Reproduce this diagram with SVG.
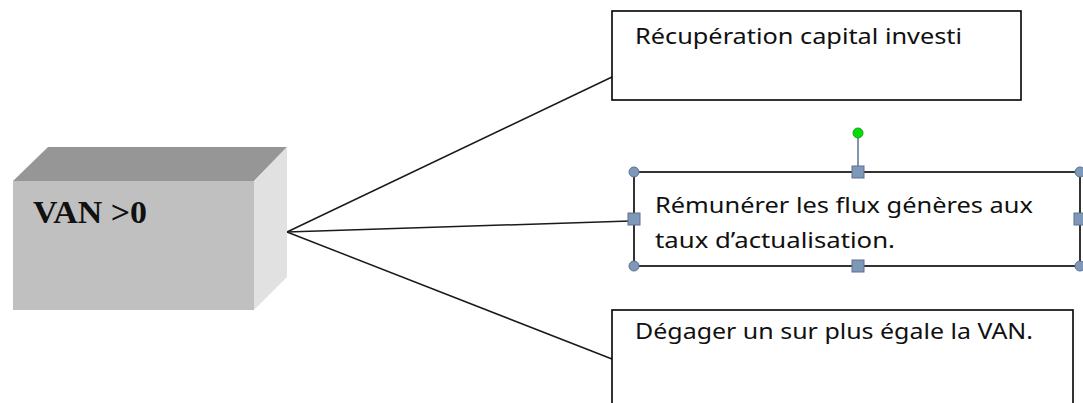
<svg xmlns="http://www.w3.org/2000/svg" width="1083" height="403" viewBox="0 0 1083 403">
  <style>
    .box { fill: #ffffff; stroke: #000000; stroke-width: 1.6; }
    .lbl { font-family: "Noto Sans", "Open Sans", sans-serif; font-size: 21px; fill: #101010; }
    .link { stroke: #1a1a1a; stroke-width: 1.5; fill: none; }
    .handle { fill: #7f98b8; stroke: #5a7293; stroke-width: 1; }
  </style>
  <rect width="1083" height="403" fill="#ffffff"/>

  <!-- connectors from the cube to each box -->
  <g id="connectors">
    <line class="link" x1="287" y1="232" x2="612" y2="77"/>
    <line class="link" x1="287" y1="232" x2="630" y2="221"/>
    <line class="link" x1="287" y1="232" x2="612" y2="359"/>
  </g>

  <!-- 3D cube: VAN > 0 -->
  <g id="cube">
    <polygon points="13,181 48,147 287,147 254,181" fill="#969696"/>
    <polygon points="254,181 287,147 287,277 254,310" fill="#e1e1e1"/>
    <rect x="13" y="181" width="241" height="129" fill="#c0c0c0"/>
    <text x="33" y="223" font-family="Liberation Serif, serif" font-weight="bold" font-size="31" fill="#111111" textLength="114" lengthAdjust="spacingAndGlyphs">VAN &gt;0</text>
  </g>

  <!-- box: capital recovery -->
  <g id="box-recuperation">
    <rect class="box" x="612" y="11" width="409" height="89"/>
    <text class="lbl" x="635" y="44" textLength="327" lengthAdjust="spacingAndGlyphs">Récupération capital investi</text>
  </g>

  <!-- box: cash-flow remuneration (selected, with handles) -->
  <g id="box-remunerer">
    <rect class="box" x="634" y="172" width="446" height="94"/>
    <text class="lbl" x="655" y="213" textLength="378" lengthAdjust="spacingAndGlyphs">Rémunérer les flux génères aux</text>
    <text class="lbl" x="655" y="248" textLength="240" lengthAdjust="spacingAndGlyphs">taux d’actualisation.</text>
    <line x1="858" y1="133" x2="858" y2="172" stroke="#5a7293" stroke-width="1.5"/>
    <circle cx="858" cy="133" r="5" fill="#00e000" stroke="#2a9a2a" stroke-width="1"/>
    <circle class="handle" cx="634" cy="172" r="5"/>
    <circle class="handle" cx="1080" cy="172" r="5"/>
    <circle class="handle" cx="634" cy="266" r="5"/>
    <circle class="handle" cx="1080" cy="266" r="5"/>
    <rect class="handle" x="852" y="166" width="12" height="12"/>
    <rect class="handle" x="852" y="260" width="12" height="12"/>
    <rect class="handle" x="628" y="213" width="12" height="12"/>
    <rect class="handle" x="1074" y="213" width="12" height="12"/>
  </g>

  <!-- box: surplus equals NPV -->
  <g id="box-degager">
    <rect class="box" x="612" y="310" width="461" height="110"/>
    <text class="lbl" x="635" y="339" textLength="398" lengthAdjust="spacingAndGlyphs">Dégager un sur plus égale la VAN.</text>
  </g>
</svg>
